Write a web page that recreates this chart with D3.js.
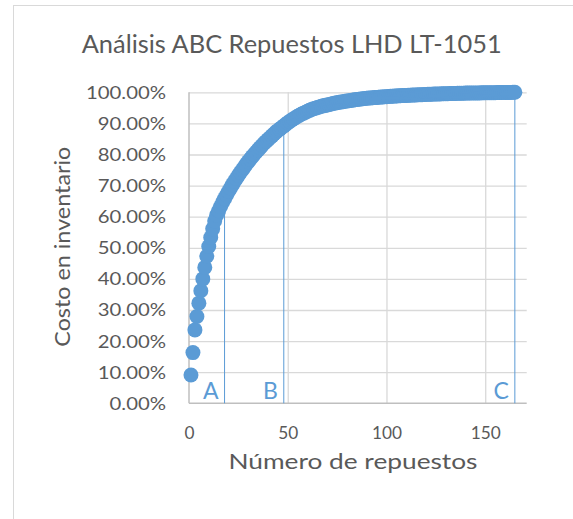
<!DOCTYPE html>
<html>
<head>
<meta charset="utf-8">
<script src="https://cdn.jsdelivr.net/npm/d3@7/dist/d3.min.js"></script>
<style>
  html, body { margin: 0; padding: 0; background: #ffffff; }
  svg { display: block; font-family: Lato, "Noto Sans", sans-serif; }
</style>
</head>
<body>
<svg id="chart" width="573" height="519"></svg>
<script>
// Curva ABC: costo acumulado (%) por repuesto, ordenado de mayor a menor costo
const costoAcumulado = [
  9.1, 16.3, 23.6, 27.9, 32.2, 36.2, 40.0, 43.7, 47.3, 50.4,
  53.3, 56.1, 58.6, 60.5, 61.9, 63.3, 64.6, 65.8, 67.0, 68.1,
  69.2, 70.3, 71.3, 72.3, 73.3, 74.2, 75.1, 76.0, 76.9, 77.7,
  78.5, 79.3, 80.1, 80.8, 81.5, 82.2, 82.9, 83.6, 84.2, 84.8,
  85.4, 86.0, 86.6, 87.2, 87.7, 88.2, 88.7, 89.2, 89.7, 90.2,
  90.65, 91.1, 91.5, 91.9, 92.3, 92.65, 93.0, 93.3, 93.6, 93.9,
  94.2, 94.45, 94.7, 94.9, 95.1, 95.3, 95.5, 95.65, 95.8, 95.95,
  96.1, 96.25, 96.4, 96.55, 96.65, 96.8, 96.9, 97.0, 97.1, 97.2,
  97.3, 97.4, 97.5, 97.6, 97.7, 97.8, 97.85, 97.95, 98.0, 98.1,
  98.15, 98.2, 98.25, 98.3, 98.35, 98.4, 98.45, 98.5, 98.55, 98.6,
  98.65, 98.7, 98.74, 98.78, 98.82, 98.86, 98.9, 98.94, 98.98, 99.01,
  99.04, 99.07, 99.1, 99.13, 99.16, 99.19, 99.22, 99.25, 99.28, 99.31,
  99.34, 99.37, 99.4, 99.42, 99.44, 99.46, 99.48, 99.5, 99.52, 99.54,
  99.56, 99.58, 99.6, 99.62, 99.64, 99.66, 99.68, 99.7, 99.72, 99.74,
  99.75, 99.76, 99.77, 99.78, 99.79, 99.8, 99.81, 99.82, 99.83, 99.84,
  99.85, 99.86, 99.87, 99.88, 99.89, 99.9, 99.91, 99.92, 99.93, 99.94,
  99.95, 99.96, 99.97, 99.99, 100.0
];

// Clases ABC y el último repuesto de cada una
const clases = ["A", "B", "C"];
const limitesClase = [18, 48, 165];

// Ticks de los ejes
const xTicks = [0, 50, 100, 150];
const yTicks = [0, 10, 20, 30, 40, 50, 60, 70, 80, 90, 100];
const xMax = 171;

const titulo = "Análisis ABC Repuestos LHD LT-1051";
const tituloX = "Número de repuestos";
const tituloY = "Costo en inventario";

const azul = "#5b9bd5";
const gris = "#595959";

const svg = d3.select("#chart");

// Marco del gráfico
svg.append("rect")
  .attr("x", 13.5).attr("y", 5.5)
  .attr("width", 600).attr("height", 600)
  .attr("fill", "#ffffff").attr("stroke", "#d9d9d9").attr("stroke-width", 1);

const plot = { left: 189, right: 526.7, top: 92.3, bottom: 403.3 };

const x = d3.scaleLinear().domain([0, xMax]).range([plot.left, plot.right]);
const y = d3.scaleLinear().domain([0, 100]).range([plot.bottom, plot.top]);

// Ajusta el ancho de un grupo de textos con un factor común
function ajustarAncho(sel, referencia, anchoObjetivo) {
  let nat = null;
  sel.each(function () {
    if (this.textContent === referencia) nat = this.getComputedTextLength();
  });
  if (!nat) return;
  const k = anchoObjetivo / nat;
  sel.each(function () {
    const w = this.getComputedTextLength();
    d3.select(this).attr("textLength", w * k).attr("lengthAdjust", "spacingAndGlyphs");
  });
}

// Rejilla horizontal
const gridY = svg.append("g")
  .attr("transform", `translate(${plot.left},0)`)
  .call(d3.axisLeft(y).tickValues(yTicks.filter(d => d > 0)).tickSize(-(plot.right - plot.left)).tickFormat(""));
gridY.select(".domain").remove();
gridY.selectAll(".tick line").attr("stroke", "#d9d9d9").attr("stroke-width", 1.3);

// Rejilla vertical
const gridX = svg.append("g")
  .attr("transform", `translate(0,${plot.bottom})`)
  .call(d3.axisBottom(x).tickValues(xTicks.filter(d => d > 0)).tickSize(-(plot.bottom - plot.top)).tickFormat(""));
gridX.select(".domain").remove();
gridX.selectAll(".tick line").attr("stroke", "#d9d9d9").attr("stroke-width", 1.3);

// Líneas de eje
svg.append("line")
  .attr("x1", x(0)).attr("x2", x(0)).attr("y1", y(0)).attr("y2", y(100))
  .attr("stroke", "#bfbfbf").attr("stroke-width", 1.5);
svg.append("line")
  .attr("x1", x(0)).attr("x2", x(xMax)).attr("y1", y(0)).attr("y2", y(0))
  .attr("stroke", "#bfbfbf").attr("stroke-width", 1.5);

// Etiquetas del eje Y
const axY = svg.append("g")
  .attr("transform", `translate(166,0)`)
  .call(d3.axisLeft(y).tickValues(yTicks).tickSize(0).tickPadding(0).tickFormat(d => d.toFixed(2) + "%"));
axY.select(".domain").remove();
axY.selectAll("text")
  .attr("fill", gris).attr("font-size", 16.5).attr("font-family", "Lato, sans-serif")
  .attr("dy", "0.36em");
ajustarAncho(axY.selectAll("text"), "100.00%", 80);

// Etiquetas del eje X
const axX = svg.append("g")
  .attr("transform", `translate(0,${plot.bottom})`)
  .call(d3.axisBottom(x).tickValues(xTicks).tickSize(0).tickPadding(0).tickFormat(d3.format("d")));
axX.select(".domain").remove();
axX.selectAll("text")
  .attr("fill", gris).attr("font-size", 16.5).attr("font-family", "Lato, sans-serif")
  .attr("dy", null).attr("y", 35.8);
ajustarAncho(axX.selectAll("text"), "150", 30);

// Líneas divisorias de las clases
svg.append("g").selectAll("line")
  .data(limitesClase)
  .join("line")
  .attr("x1", d => x(d)).attr("x2", d => x(d))
  .attr("y1", y(0)).attr("y2", d => y(costoAcumulado[d - 1]))
  .attr("stroke", azul).attr("stroke-width", 1);

// Puntos de la curva acumulada
svg.append("g").selectAll("circle")
  .data(costoAcumulado)
  .join("circle")
  .attr("cx", (d, i) => x(i + 1))
  .attr("cy", d => y(d))
  .attr("r", 7.5)
  .attr("fill", azul);

// Letras de las clases
svg.append("g").selectAll("text")
  .data(clases)
  .join("text")
  .attr("x", (d, i) => x(limitesClase[i]) - 6)
  .attr("y", 398.5)
  .attr("text-anchor", "end")
  .attr("fill", azul)
  .attr("font-size", 23)
  .text(d => d);

// Título
const t = svg.append("text")
  .attr("x", 291.7).attr("y", 52.5)
  .attr("text-anchor", "middle")
  .attr("fill", gris).attr("font-size", 24.5)
  .text(titulo);
ajustarAncho(t, titulo, 420);

// Título del eje X
const tx = svg.append("text")
  .attr("x", 353).attr("y", 469)
  .attr("text-anchor", "middle")
  .attr("fill", gris).attr("font-size", 22)
  .text(tituloX);
ajustarAncho(tx, tituloX, 249);

// Título del eje Y
const ty = svg.append("text")
  .attr("transform", `translate(70,246.7) rotate(-90)`)
  .attr("text-anchor", "middle")
  .attr("fill", gris).attr("font-size", 22)
  .text(tituloY);
ajustarAncho(ty, tituloY, 200);
</script>
</body>
</html>
